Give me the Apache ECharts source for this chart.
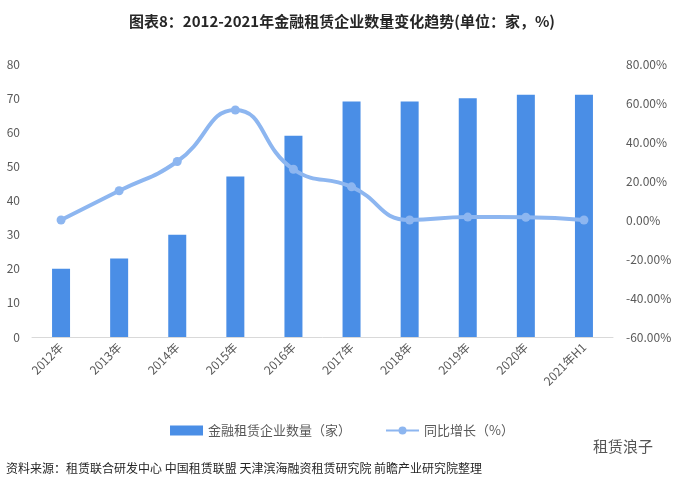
<!DOCTYPE html>
<html><head><meta charset="utf-8">
<script src="https://cdn.jsdelivr.net/npm/echarts@6/dist/echarts.min.js"></script>
<style>html,body{margin:0;padding:0;background:#fff}#c{width:684px;height:483px}</style>
</head><body><div id="c"></div>
<script>
var categories = ['2012年','2013年','2014年','2015年','2016年','2017年','2018年','2019年','2020年','2021年H1'];
var companyCount = [20, 23, 30, 47, 59, 69, 69, 70, 71, 71];
var growthPct = [0, 15, 30, 56.4, 26, 17, 0, 1.5, 1.4, 0];
var leftTicks = [0, 80, 10];
var rightTicks = [-60, 80, 20];

var chart = echarts.init(document.getElementById('c'));
var font = '"Noto Sans CJK SC", "Noto Sans", sans-serif';
chart.setOption({
  animation: false,
  textStyle: {fontFamily: font},
  title: {
    text: '图表8：2012-2021年金融租赁企业数量变化趋势(单位：家，%)',
    left: 'center', top: 9,
    textStyle: {fontSize: 15, fontWeight: 'bold', color: '#262626', fontFamily: font}
  },
  legend: {
    top: 419, left: 'center', itemGap: 34, itemWidth: 33, itemHeight: 10,
    textStyle: {fontSize: 13, color: '#595959'},
    data: [
      {name: '金融租赁企业数量（家）', icon: 'rect'},
      {name: '同比增长（%）'}
    ]
  },
  grid: {left: 32, right: 71, top: 64, bottom: 146, containLabel: false},
  xAxis: {
    type: 'category', data: categories,
    axisLine: {lineStyle: {color: '#D9D9D9'}},
    axisTick: {show: false},
    axisLabel: {rotate: 45, color: '#595959', fontSize: 12, margin: 8}
  },
  yAxis: [
    {type: 'value', min: leftTicks[0], max: leftTicks[1], interval: leftTicks[2],
     splitLine: {show: false}, axisLine: {show: false}, axisTick: {show: false},
     axisLabel: {color: '#595959', fontSize: 12, margin: 12}},
    {type: 'value', min: rightTicks[0], max: rightTicks[1], interval: rightTicks[2],
     splitLine: {show: false}, axisLine: {show: false}, axisTick: {show: false},
     axisLabel: {color: '#595959', fontSize: 12, margin: 13,
       formatter: function(v){return v.toFixed(2) + '%';}}}
  ],
  series: [
    {name: '金融租赁企业数量（家）', type: 'bar', data: companyCount, yAxisIndex: 0,
     barWidth: 18, itemStyle: {color: '#4A8EE6'}},
    {name: '同比增长（%）', type: 'line', data: growthPct, yAxisIndex: 1, smooth: 0.5,
     symbol: 'circle', symbolSize: 9,
     lineStyle: {color: '#8DB6F0', width: 4},
     itemStyle: {color: '#8DB6F0'}}
  ],
  graphic: [
    {type: 'text', left: 6, top: 462,
     style: {text: '资料来源：租赁联合研发中心 中国租赁联盟 天津滨海融资租赁研究院 前瞻产业研究院整理',
       fontSize: 12, fill: '#262626', fontFamily: font}},
    {type: 'text', left: 593, top: 439,
     style: {text: '租赁浪子', fontSize: 15, fill: '#555', fontFamily: font}}
  ]
});
</script></body></html>
